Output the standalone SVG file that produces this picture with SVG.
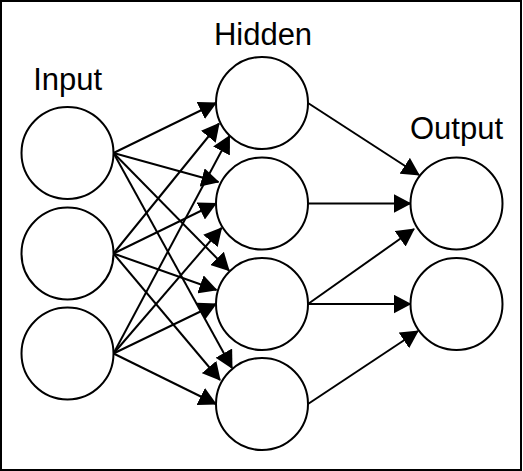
<svg xmlns="http://www.w3.org/2000/svg" width="523" height="471" viewBox="0 0 523 471">
  <style>
    .node { fill: #ffffff; stroke: #000000; stroke-width: 2; }
    .edge { fill: none; stroke: #000000; stroke-width: 2; marker-end: url(#arrow); }
    .label { font-family: "Liberation Sans", Arial, sans-serif; font-size: 31px; fill: #000000; text-anchor: middle; }
  </style>
  <defs>
    <marker id="arrow" markerUnits="userSpaceOnUse" viewBox="0 0 18 19" refX="17" refY="9.5" markerWidth="18" markerHeight="19" orient="auto">
      <path d="M0,0 L18,9.5 L0,19 Z" fill="#000000"/>
    </marker>
  </defs>
  <rect x="1" y="1" width="520" height="469" fill="#ffffff" stroke="#000000" stroke-width="2"/>

  <g id="connectors">
    <line class="edge" x1="113.5" y1="153" x2="216" y2="103"/>
    <line class="edge" x1="113.5" y1="153" x2="218.5" y2="182"/>
    <line class="edge" x1="113.5" y1="153" x2="229" y2="270.5"/>
    <line class="edge" x1="113.5" y1="153" x2="232" y2="368"/>

    <line class="edge" x1="113.5" y1="253.5" x2="219" y2="123.5"/>
    <line class="edge" x1="113.5" y1="253.5" x2="216" y2="203.5"/>
    <line class="edge" x1="113.5" y1="253.5" x2="216.5" y2="290"/>
    <line class="edge" x1="113.5" y1="253.5" x2="220" y2="380"/>

    <line class="edge" x1="113.5" y1="353.5" x2="229.5" y2="136"/>
    <line class="edge" x1="113.5" y1="353.5" x2="221.5" y2="228"/>
    <line class="edge" x1="113.5" y1="353.5" x2="216" y2="304"/>
    <line class="edge" x1="113.5" y1="353.5" x2="216" y2="404"/>

    <line class="edge" x1="308" y1="103" x2="419" y2="175"/>
    <line class="edge" x1="308" y1="203.5" x2="410.5" y2="203.5"/>
    <line class="edge" x1="308" y1="304" x2="414" y2="229"/>
    <line class="edge" x1="308" y1="304" x2="410.5" y2="304"/>
    <line class="edge" x1="308" y1="404" x2="418" y2="331"/>
  </g>

  <g id="input1"><circle class="node" cx="67.5" cy="153" r="46"/></g>
  <g id="input2"><circle class="node" cx="67.5" cy="253.5" r="46"/></g>
  <g id="input3"><circle class="node" cx="67.5" cy="353.5" r="46"/></g>

  <g id="hidden1"><circle class="node" cx="262" cy="103" r="46"/></g>
  <g id="hidden2"><circle class="node" cx="262" cy="203.5" r="46"/></g>
  <g id="hidden3"><circle class="node" cx="262" cy="304" r="46"/></g>
  <g id="hidden4"><circle class="node" cx="262" cy="404" r="46"/></g>

  <g id="output1"><circle class="node" cx="456.5" cy="203.5" r="46"/></g>
  <g id="output2"><circle class="node" cx="456.5" cy="304" r="46"/></g>

  <g id="labels">
    <text class="label" x="67.7" y="90">Input</text>
    <text class="label" x="263" y="45">Hidden</text>
    <text class="label" x="456.5" y="139">Output</text>
  </g>
</svg>
